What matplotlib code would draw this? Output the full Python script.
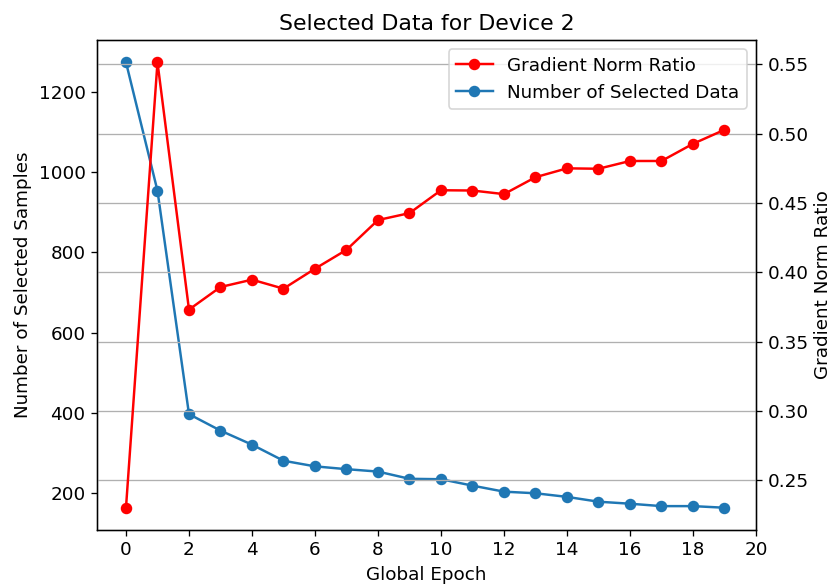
import matplotlib
matplotlib.use("Agg")
import matplotlib.pyplot as plt

epochs = list(range(20))
selected_samples = [1273, 953, 397, 356, 321, 281, 267, 260, 254, 236, 235, 219,
                    204, 200, 191, 179, 174, 168, 168, 164]
grad_norm_ratio = [0.2303, 0.5516, 0.3732, 0.3895, 0.3948, 0.3883, 0.4027, 0.4163,
                   0.4378, 0.4428, 0.4593, 0.4591, 0.4565, 0.4687, 0.4751, 0.4748,
                   0.4804, 0.4804, 0.4928, 0.5029]
xticks = list(range(0, 21, 2))

plt.rcParams['font.size'] = 11.2

dpi = 118
fig, ax1 = plt.subplots(figsize=(832 / dpi, 585 / dpi), dpi=dpi)
fig.subplots_adjust(left=97 / 832, right=756 / 832, top=1 - 40 / 585, bottom=1 - 530 / 585)

l1, = ax1.plot(epochs, selected_samples, marker='o', color='tab:blue',
               label='Number of Selected Data')
ax1.set_xlabel('Global Epoch')
ax1.set_ylabel('Number of Selected Samples')
ax1.set_xticks(xticks)
ax1.set_xlim(-0.92, 20)

ax2 = ax1.twinx()
l2, = ax2.plot(epochs, grad_norm_ratio, marker='o', color='red',
               label='Gradient Norm Ratio')
ax2.set_ylabel('Gradient Norm Ratio', labelpad=3)
ax2.yaxis.grid(True)

ax2.legend(handles=[l2, l1], loc='upper right')
ax1.set_title('Selected Data for Device 2')

fig.savefig('out.png', dpi=dpi)
